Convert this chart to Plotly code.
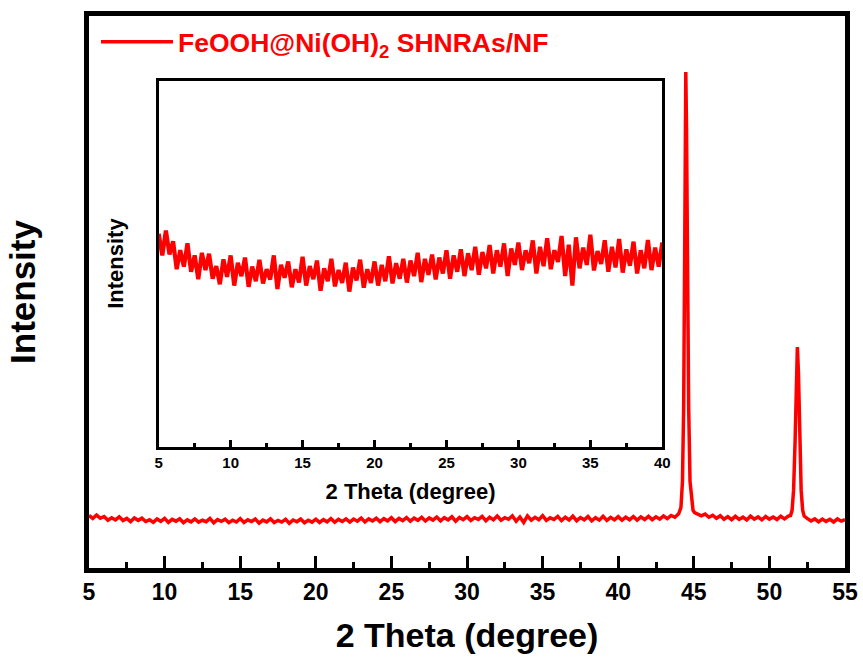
import numpy as np
import plotly.graph_objects as go

# ---------------- data ----------------
# baseline 5.00 .. 44.00 deg, step 0.25 deg
base1_y = [
    910, 860, 918, 862, 893, 828, 872, 834, 888, 822, 860, 805, 866, 826, 864, 806, 835, 793, 851, 810, 860,
    790, 843, 812, 855, 787, 834, 800, 850, 795, 828, 804, 860, 782, 838, 808, 846, 786, 828, 797, 857,
    790, 835, 805, 848, 778, 830, 800, 852, 788, 826, 796, 843, 776, 832, 802, 850, 785, 828, 796, 846,
    790, 838, 800, 858, 795, 842, 806, 852, 797, 848, 812, 866, 798, 852, 815, 862, 804, 855, 818, 872,
    806, 860, 822, 874, 812, 865, 826, 880, 815, 868, 830, 884, 818, 872, 834, 888, 812, 876, 838,
    890, 826, 872, 842, 895, 818, 880, 835, 900, 828, 872, 845, 905, 812, 885, 790, 902, 830, 878, 838,
    908, 825, 870, 840, 895, 822, 880, 832, 898, 820, 874, 836, 892, 818, 872, 830, 896, 826, 878, 834, 890,
    828, 880, 836, 892, 830, 884, 840, 895, 838, 888, 846, 902, 856, 910, 880, 940,
]
base1_start = 5.0

peak1_x = [44.15, 44.25, 44.33, 44.40, 44.47, 44.52, 44.58, 44.66, 44.75, 44.85, 44.95, 45.05]
peak1_y = [1050, 1500, 2800, 5600, 8600, 7600, 5000, 2800, 1500, 1150, 1000, 960]

# baseline 45.25 .. 51.25 deg, step 0.25 deg
base2_y = [940, 905, 935, 880, 915, 862, 905, 845, 890, 838, 895, 842, 882,
           832, 898, 846, 886, 835, 892, 848, 885, 840, 898, 852, 900]
base2_start = 45.25

peak2_x = [51.40, 51.50, 51.60, 51.70, 51.78, 51.85, 51.92, 52.00, 52.10, 52.20, 52.30]
peak2_y = [910, 1000, 1350, 2200, 3300, 3830, 3400, 2300, 1350, 1000, 900]

# baseline 52.50 .. 55.00 deg, step 0.25 deg
base3_y = [860, 815, 852, 800, 848, 808, 845, 798, 850, 812, 840]
base3_start = 52.5

step = 0.25
series_name = "FeOOH@Ni(OH)<sub>2</sub> SHNRAs/NF"
main_ticks = [5, 10, 15, 20, 25, 30, 35, 40, 45, 50, 55]
inset_ticks = [5, 10, 15, 20, 25, 30, 35, 40]

# ---------------- assemble ----------------
def grid(start, n):
    return [round(start + step * i, 2) for i in range(n)]

two_theta = (grid(base1_start, len(base1_y)) + peak1_x + grid(base2_start, len(base2_y))
             + peak2_x + grid(base3_start, len(base3_y)))
intensity = base1_y + peak1_y + base2_y + peak2_y + base3_y
two_theta = np.array(two_theta)
intensity = np.array(intensity)
mask = two_theta <= 40.0

RED = "#FF0000"
FONT = "Liberation Sans, Arial, sans-serif"

fig = go.Figure()
fig.add_trace(go.Scatter(x=two_theta, y=intensity, mode="lines", name=series_name,
                         line=dict(color=RED, width=3.5), xaxis="x", yaxis="y"))
fig.add_trace(go.Scatter(x=two_theta[mask], y=intensity[mask], mode="lines", showlegend=False,
                         line=dict(color=RED, width=4.2), xaxis="x2", yaxis="y2"))

W, H = 863, 661
ml, mr, mt, mb = 89, 18, 16, 93
pw, ph = W - ml - mr, H - mt - mb

fig.update_layout(
    width=W, height=H,
    margin=dict(l=ml, r=mr, t=mt, b=mb),
    paper_bgcolor="white", plot_bgcolor="white",
    font=dict(family=FONT, color="black"),
    showlegend=True,
    legend=dict(x=(96 - ml) / pw, y=(H - mb - 42) / ph, xanchor="left", yanchor="middle",
                bgcolor="rgba(0,0,0,0)", borderwidth=0,
                font=dict(size=26.5, color=RED, family=FONT, weight="bold"), itemwidth=72),
    xaxis=dict(
        domain=[0, 1], range=[5, 55], tickvals=main_ticks,
        ticks="inside", ticklen=12, tickwidth=3, tickcolor="black",
        minor=dict(ticks="inside", ticklen=6, tickwidth=3, tickcolor="black", dtick=2.5, tick0=5),
        showline=True, linewidth=4.5, linecolor="black", mirror=True,
        showgrid=False, zeroline=False,
        tickfont=dict(size=23, family=FONT, weight="bold"),
        title=dict(text="2 Theta (degree)", font=dict(size=34, family=FONT, weight="bold"), standoff=20),
        automargin=False,
    ),
    yaxis=dict(
        domain=[0, 1], range=[0, 9570], showticklabels=False, ticks="",
        showline=True, linewidth=4.5, linecolor="black", mirror=True,
        showgrid=False, zeroline=False,
        title=dict(text="Intensity", font=dict(size=35, family=FONT, weight="bold"), standoff=40),
        automargin=False,
    ),
    xaxis2=dict(
        anchor="y2", domain=[(158.7 - ml) / pw, (662.3 - ml) / pw], range=[5, 40], tickvals=inset_ticks,
        ticks="inside", ticklen=7, tickwidth=2.5, tickcolor="black",
        minor=dict(ticks="inside", ticklen=4, tickwidth=2.5, tickcolor="black", dtick=2.5, tick0=5),
        showline=True, linewidth=3, linecolor="black", mirror=True,
        showgrid=False, zeroline=False,
        tickfont=dict(size=15, family=FONT, weight="bold"),
        title=dict(text="2 Theta (degree)", font=dict(size=22, family=FONT, weight="bold"), standoff=15),
        automargin=False,
    ),
    yaxis2=dict(
        anchor="x2", domain=[(H - mb - 446.5) / ph, (H - mb - 80.7) / ph], range=[416, 1266],
        showticklabels=False, ticks="",
        showline=True, linewidth=3, linecolor="black", mirror=True,
        showgrid=False, zeroline=False,
        title=dict(text="Intensity", font=dict(size=22, family=FONT, weight="bold"), standoff=26),
        automargin=False,
    ),
)

fig.write_html("out.html")
